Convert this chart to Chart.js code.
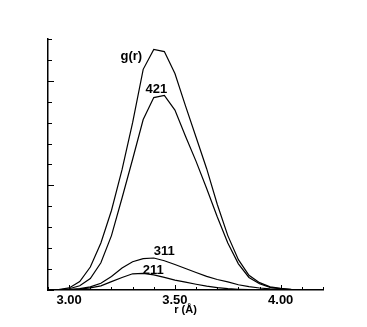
<!DOCTYPE html>
<html>
<head>
<meta charset="utf-8">
<script src="https://cdn.jsdelivr.net/npm/chart.js@4.4.0/dist/chart.umd.min.js"></script>
<style>
  body { margin: 0; background: #fff; }
  #wrap { width: 367px; height: 327px; }
</style>
</head>
<body>
<div id="wrap"><canvas id="chart1" width="367" height="327"></canvas></div>
<script>
// r in Angstrom
var radius = [2.90, 2.95, 3.00, 3.05, 3.10, 3.15, 3.20, 3.25, 3.30, 3.35, 3.40, 3.45, 3.50, 3.55,
              3.60, 3.65, 3.70, 3.75, 3.80, 3.85, 3.90, 3.95, 4.00, 4.05, 4.10, 4.15, 4.20];

var gTotal = [0, 0.005, 0.02, 0.08, 0.22, 0.45, 0.76, 1.15, 1.60, 2.11, 2.30, 2.28, 2.07, 1.76,
              1.46, 1.16, 0.82, 0.52, 0.29, 0.14, 0.07, 0.03, 0.015, 0.006, 0.002, 0, 0];
var g421 = [0, 0.002, 0.012, 0.04, 0.11, 0.26, 0.52, 0.88, 1.25, 1.63, 1.84, 1.86, 1.72, 1.47,
            1.23, 0.97, 0.70, 0.45, 0.25, 0.12, 0.06, 0.025, 0.01, 0.004, 0.001, 0, 0];
var g311 = [0, 0.001, 0.005, 0.013, 0.03, 0.065, 0.13, 0.21, 0.27, 0.30, 0.306, 0.28, 0.244, 0.206,
            0.167, 0.13, 0.10, 0.077, 0.05, 0.033, 0.019, 0.01, 0.005, 0.002, 0.001, 0, 0];
var g211 = [0, 0.001, 0.003, 0.008, 0.02, 0.04, 0.08, 0.12, 0.155, 0.158, 0.145, 0.12, 0.095, 0.075,
            0.055, 0.037, 0.023, 0.013, 0.007, 0.003, 0.001, 0, 0, 0, 0, 0, 0];

var seriesNames = ["g(r)", "421", "311", "211"];
var xTickValues = [3.0, 3.5, 4.0];
var xTickLabels = ["3.00", "3.50", "4.00"];

// where each curve name sits (data units)
var labelSpots = [[3.294, 2.23], [3.412, 1.92], [3.45, 0.373], [3.398, 0.191]];

var FONT = "'Liberation Sans', Arial, Helvetica, sans-serif";

function toPoints(ys) {
  return radius.map(function(r, i) { return {x: r, y: ys[i]}; });
}

// ticks pointing into the plot, plus curve names
var innerTicks = {
  id: "innerTicks",
  afterDraw: function(chart) {
    var ctx = chart.ctx;
    var xs = chart.scales.x, ys = chart.scales.y;
    var left = chart.chartArea.left, bottom = chart.chartArea.bottom;
    ctx.save();
    ctx.strokeStyle = "#000";
    ctx.lineWidth = 1;
    ctx.beginPath();
    for (var i = 0; i <= 13; i++) {
      var v = 2.9 + i * 0.1;
      var major = xTickValues.some(function(t) { return Math.abs(t - v) < 1e-6; });
      var px = Math.round(xs.getPixelForValue(v)) + 0.5;
      ctx.moveTo(px, bottom);
      ctx.lineTo(px, bottom - (major ? 5 : 3));
    }
    for (var j = 0; j <= 12; j++) {
      var w = j * 0.2;
      var maj = Math.abs(w - Math.round(w)) < 1e-6;
      var py = Math.round(ys.getPixelForValue(w)) + 0.5;
      ctx.moveTo(left, py);
      ctx.lineTo(left + (maj ? 6 : 4), py);
    }
    ctx.stroke();

    ctx.fillStyle = "#000";
    ctx.font = "bold 13px " + FONT;
    ctx.textAlign = "center";
    ctx.textBaseline = "middle";
    seriesNames.forEach(function(name, k) {
      ctx.fillText(name, xs.getPixelForValue(labelSpots[k][0]), ys.getPixelForValue(labelSpots[k][1]));
    });
    ctx.restore();
  }
};

var ctx1 = document.getElementById("chart1");
var chart1 = new Chart(ctx1, {
  type: "line",
  data: {
    datasets: [gTotal, g421, g311, g211].map(function(ys, k) {
      return {
        label: seriesNames[k],
        data: toPoints(ys),
        borderColor: "#000",
        backgroundColor: "#000",
        borderWidth: 1.2,
        pointRadius: 0,
        tension: 0,
        fill: false
      };
    })
  },
  options: {
    responsive: false,
    animation: false,
    layout: { padding: { left: 38, top: 39, right: 44, bottom: 0 } },
    scales: {
      x: {
        type: "linear",
        min: 2.9,
        max: 4.2,
        afterBuildTicks: function(scale) {
          scale.ticks = xTickValues.map(function(v) { return {value: v}; });
        },
        afterFit: function(scale) { scale.height = 37; },
        grid: { display: false, drawTicks: false },
        border: { display: true, color: "#000", width: 1.5 },
        ticks: {
          color: "#000",
          padding: 3,
          maxRotation: 0,
          font: { family: FONT, size: 13, weight: "bold" },
          callback: function(v) {
            var i = xTickValues.indexOf(v);
            return i >= 0 ? xTickLabels[i] : "";
          }
        },
        title: {
          display: true,
          text: "r (Å)",
          color: "#000",
          padding: { top: 0, bottom: 10 },
          font: { family: FONT, size: 11, weight: "bold" }
        }
      },
      y: {
        type: "linear",
        min: 0,
        max: 2.4,
        afterFit: function(scale) { scale.width = 10; },
        grid: { display: false, drawTicks: false },
        border: { display: true, color: "#000", width: 1.5 },
        ticks: { display: false }
      }
    },
    plugins: {
      legend: { display: false },
      tooltip: { enabled: false }
    }
  },
  plugins: [innerTicks]
});
</script>
</body>
</html>
